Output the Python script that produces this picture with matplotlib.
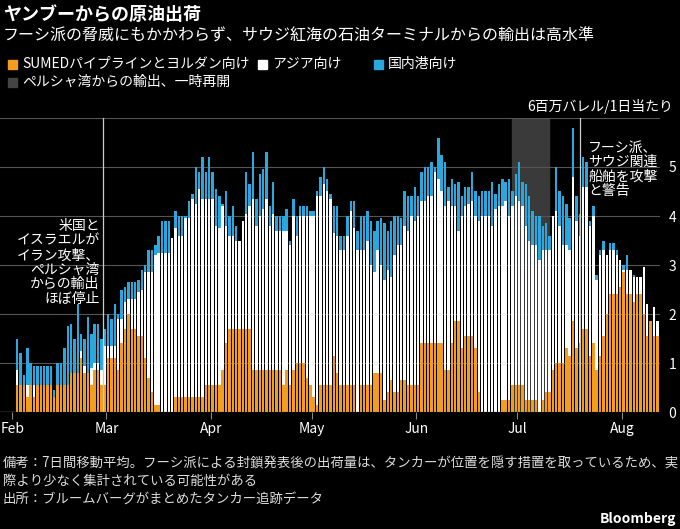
import matplotlib
matplotlib.use("Agg")
import matplotlib.pyplot as plt
import numpy as np

plt.rcParams['font.family'] = ['Noto Sans CJK JP', 'DejaVu Sans']

# daily values, Feb 1 onwards (million barrels per day)
sumed = [0.55, 0.55, 0.55, 0.3, 0.55, 0.3, 0.55, 0.55, 0.55, 0.55,
         0.55, 0.3, 0.55, 0.55, 0.55, 0.55, 0.8, 0.8, 0.8, 1.1,
         0.8, 0.8,
         0.55, 0.85, 0.85, 0.55, 0.55, 1.1, 1.1, 1.1, 0.85, 1.4,
         1.7, 2.0, 1.7, 1.7, 1.55, 1.55, 1.1, 0.7, 0.4, 0.15,
         0.15, 0, 0, 0, 0, 0.3, 0.3, 0.3, 0.3, 0.3,
         0.3, 0.3, 0.3, 0.3, 0.55, 0.55, 0.55, 0.55, 0.55, 0.85,
         1.4, 1.7,
         1.7, 1.7, 1.7, 1.7, 1.7, 1.7, 0.85, 0.85, 0.85, 0.85,
         0.85, 0.85, 0.85, 0.85, 0.85, 0.55, 0.85, 0.55, 0.85, 1.0,
         1.0, 1.0, 0.7, 0.55, 0.3, 0.15, 0.55, 0.55, 0.55, 0.55,
         1.15, 0.8, 0.55, 0.55, 0.55, 0.55, 0.55, 0, 0.55, 0.55,
         0.55, 0.55, 0.8, 0.8, 0.8, 0.25, 0.4, 0.65, 0.4, 0.4,
         0.65, 0.65, 0.55, 0.55, 0.55, 0.55, 1.4, 1.4, 1.4, 1.4,
         1.4, 1.4, 1.4, 0.85, 0.85, 1.4, 1.85, 1.85, 1.3, 1.55,
         1.55, 1.55, 1.3, 0.4, 0, 0, 0, 0, 0, 0,
         0.25, 0.25, 0.25, 0.55, 0.55, 0.55, 0.55, 0.25, 0.25, 0.25,
         0.25, 0, 0.25, 0.4, 0.4, 0.85, 1.0, 1.0, 1.0, 1.3,
         1.15, 1.85, 1.3, 1.4, 1.7, 1.7, 1.15, 1.4, 0.85, 1.15,
         1.55, 2.0, 2.4, 2.4, 2.4, 2.55, 2.85, 2.4, 2.4, 2.25,
         2.4, 2.4, 2.0, 1.55, 1.85, 1.55, 1.55]

# top of the Asia segment (SUMED + Asia)
asia_top = [0.85, 0.55, 0.55, 0.55, 0.55, 0.55, 0.55, 0.55, 0.55, 0.55,
            0.55, 0.3, 0.55, 0.55, 0.55, 0.55, 0.8, 0.8, 0.8, 1.25,
            0.95, 0.8,
            0.9, 1.0, 1.0, 0.85, 1.35, 1.35, 1.35, 1.35, 1.9, 1.9,
            2.25, 2.3, 2.3, 2.3, 2.45, 2.5, 2.85, 2.85, 2.85, 3.2,
            3.25, 3.25, 3.25, 3.25, 3.55, 3.75, 3.6, 3.6, 3.95, 3.95,
            4.35, 4.25, 4.55, 4.35, 4.35, 4.35, 4.35, 3.8, 3.75, 4.2,
            3.8, 3.6,
            3.6, 3.5, 3.5, 3.9, 4.05, 4.2, 4.35, 3.8, 4.0, 4.15,
            4.35, 3.8, 4.05, 3.7, 3.7, 3.7, 3.7, 3.4, 4.0, 3.6,
            4.0, 4.0, 4.0, 4.0, 4.0, 4.4, 4.4, 4.65, 4.5, 4.35,
            3.65, 3.6, 3.3, 3.3, 3.6, 4.1, 3.75, 3.3, 3.3, 3.3,
            3.5, 3.0, 2.85, 3.3, 3.0, 2.7, 2.9, 2.75, 3.2, 3.4,
            3.4, 3.8, 3.7, 4.0, 3.9, 4.0, 4.3, 4.3, 4.4, 4.4,
            4.9, 4.75, 4.5, 4.2, 4.3, 4.2, 4.2, 3.7, 4.0, 4.2,
            4.25, 4.3, 4.0, 3.9, 4.0, 4.0, 4.0, 3.8, 4.15, 4.2,
            4.2, 4.3, 4.0, 4.2, 4.4, 4.3, 4.2, 3.8, 3.5, 3.4,
            3.4, 3.1, 3.3, 3.3, 3.3, 4.0, 4.1, 3.8, 3.4, 3.4,
            3.3, 4.8, 3.9, 3.6, 4.6, 4.6, 3.8, 4.0, 2.7, 3.2,
            3.3, 3.2, 3.3, 3.3, 3.2, 3.1, 2.9, 2.9, 2.9, 2.75,
            2.75, 2.75, 2.95, 2.2, 1.85, 2.15, 1.85]

total = [1.5, 1.2, 0.75, 1.3, 1.0, 0.95, 0.95, 0.95, 0.95, 0.95,
         0.95, 0.45, 1.0, 1.0, 1.3, 1.75, 1.8, 1.5, 2.2, 1.6,
         1.5, 1.95,
         1.6, 1.8, 1.8, 1.5, 1.7, 2.0, 1.9, 2.2, 2.0, 2.5,
         2.55, 2.65, 2.65, 2.65, 2.7, 2.9, 3.0, 3.3, 3.3, 3.4,
         3.6, 3.9, 3.9, 3.9, 3.55, 4.1, 4.0, 4.0, 4.0, 4.3,
         4.45, 5.0, 4.9, 5.2, 4.9, 5.2, 4.9, 4.55, 4.4, 4.25,
         4.5, 4.0,
         4.2, 3.8, 3.5, 3.6, 4.9, 4.65, 5.3, 4.35, 4.85, 4.95,
         5.3, 4.2, 4.7, 4.0, 4.0, 4.0, 4.15, 3.5, 4.35, 4.0,
         4.2, 4.2, 4.2, 4.1, 4.1, 4.5, 4.8, 5.0, 4.75, 4.45,
         4.2, 4.2, 3.6, 3.6, 4.0, 4.3, 4.3, 3.7, 4.0, 4.0,
         4.1, 3.9, 3.7, 3.9, 3.95, 3.85, 3.7, 3.9, 4.0, 4.0,
         3.95, 4.5, 4.4, 4.4, 4.6, 4.4, 4.9, 5.0, 5.0, 5.1,
         5.0, 5.6, 5.25, 5.1, 4.6, 4.75, 4.65, 4.7, 4.4, 4.6,
         4.6, 4.9, 4.5, 4.4, 4.5, 4.5, 4.5, 4.7, 4.45, 4.65,
         4.75, 4.7, 4.75, 4.5, 4.85, 5.1, 4.7, 4.65, 4.4, 4.1,
         4.0, 4.0, 3.8, 3.85, 3.6, 4.0, 5.0, 4.5, 4.4, 4.25,
         3.95, 5.8, 4.4, 4.05, 5.2, 5.1, 3.9, 4.2, 2.8, 3.3,
         3.5, 3.2, 3.45, 3.45, 3.3, 3.1, 3.0, 3.2, 2.9, 2.8,
         2.75, 2.75, 2.95, 2.2, 1.85, 2.15, 1.85]

months = ['Feb', 'Mar', 'Apr', 'May', 'Jun', 'Jul', 'Aug']
month_start = [0, 28, 59, 89, 120, 150, 181]  # day index from Feb 1

sumed = np.array(sumed)
asia_top = np.array(asia_top)
total = np.array(total)
n = min(len(sumed), len(asia_top), len(total))
sumed, asia_top, total = sumed[:n], asia_top[:n], total[:n]
asia = np.maximum(asia_top - sumed, 0)
domestic = np.maximum(total - asia_top, 0)
pos = np.arange(n) + 1.5

ORANGE = '#f39c1e'
BLUE = '#2aa7dd'
GRID = '#555555'

fig = plt.figure(figsize=(6.8, 5.29), dpi=100, facecolor='black')
ax = fig.add_axes([0.0, 0.221, 660 / 680, 0.556])
ax.set_facecolor('black')

ax.axvspan(148.5, 159.5, color='#3a3a3a', zorder=0)
for y in range(7):
    ax.axhline(y, color=GRID, lw=0.8, zorder=0.5)

w = 0.72
ax.bar(pos, sumed, width=w, color=ORANGE, zorder=2)
ax.bar(pos, asia, width=w, bottom=sumed, color='white', zorder=2)
ax.bar(pos, domestic, width=w, bottom=sumed + asia, color=BLUE, zorder=2)

ax.axvline(27, color='#cccccc', lw=0.9, zorder=3)
ax.axvline(168.5, color='#cccccc', lw=0.9, zorder=3)

ax.set_xlim(-3.6, 192.3)
ax.set_ylim(0, 6)
ax.set_xticks(month_start)
ax.set_xticklabels(months)
ax.set_yticks(range(6))
ax.yaxis.tick_right()
ax.tick_params(axis='y', length=0, colors='white', labelsize=10, pad=6)
ax.tick_params(axis='x', length=5, color='#888888', colors='white', labelsize=10, pad=2)
for s in ax.spines.values():
    s.set_visible(False)
ax.axhline(0, color='#888888', lw=1, zorder=3)

fig.text(0.99, 1 - 106 / 529, '6百万バレル/1日当たり', color='white', fontsize=10, ha='right', va='center')

ax.text(26, 3.05, '米国と\nイスラエルが\nイラン攻撃、\nペルシャ湾\nからの輸出\nほぼ停止', color='white',
        fontsize=10, ha='right', va='center', linespacing=1.05, zorder=4)
ax.text(171, 4.95, 'フーシ派、\nサウジ関連\n船舶を攻撃\nと警告', color='white',
        fontsize=10, ha='left', va='center', linespacing=1.05, zorder=4)

fig.text(0.004, 1 - 14 / 529, 'ヤンブーからの原油出荷', color='white', fontsize=13, fontweight='bold', va='center')
fig.text(0.004, 1 - 36 / 529, 'フーシ派の脅威にもかかわらず、サウジ紅海の石油ターミナルからの輸出は高水準',
         color='white', fontsize=11.5, va='center')

legend = [(8, 64, ORANGE, 'SUMEDパイプラインとヨルダン向け'), (258, 64, 'white', 'アジア向け'),
          (374, 64, BLUE, '国内港向け'), (8, 82, '#444444', 'ペルシャ湾からの輸出、一時再開')]
for lx, ly, c, t in legend:
    fig.patches.append(plt.Rectangle((lx / 680, 1 - (ly + 5) / 529), 9 / 680, 9 / 529, color=c,
                                     transform=fig.transFigure, figure=fig))
    fig.text((lx + 14) / 680, 1 - ly / 529, t, color='white', fontsize=10, va='center')

fig.text(0.004, 1 - 463 / 529, '備考：7日間移動平均。フーシ派による封鎖発表後の出荷量は、タンカーが位置を隠す措置を取っているため、実',
         color='#dddddd', fontsize=9.6, va='center')
fig.text(0.004, 1 - 481 / 529, '際より少なく集計されている可能性がある', color='#dddddd', fontsize=9.6, va='center')
fig.text(0.004, 1 - 500 / 529, '出所：ブルームバーグがまとめたタンカー追跡データ', color='#dddddd', fontsize=9.6, va='center')
fig.text(0.995, 1 - 519 / 529, 'Bloomberg', color='white', fontsize=10, fontweight='bold', ha='right', va='center')

fig.savefig('out.png', dpi=100, facecolor='black')
